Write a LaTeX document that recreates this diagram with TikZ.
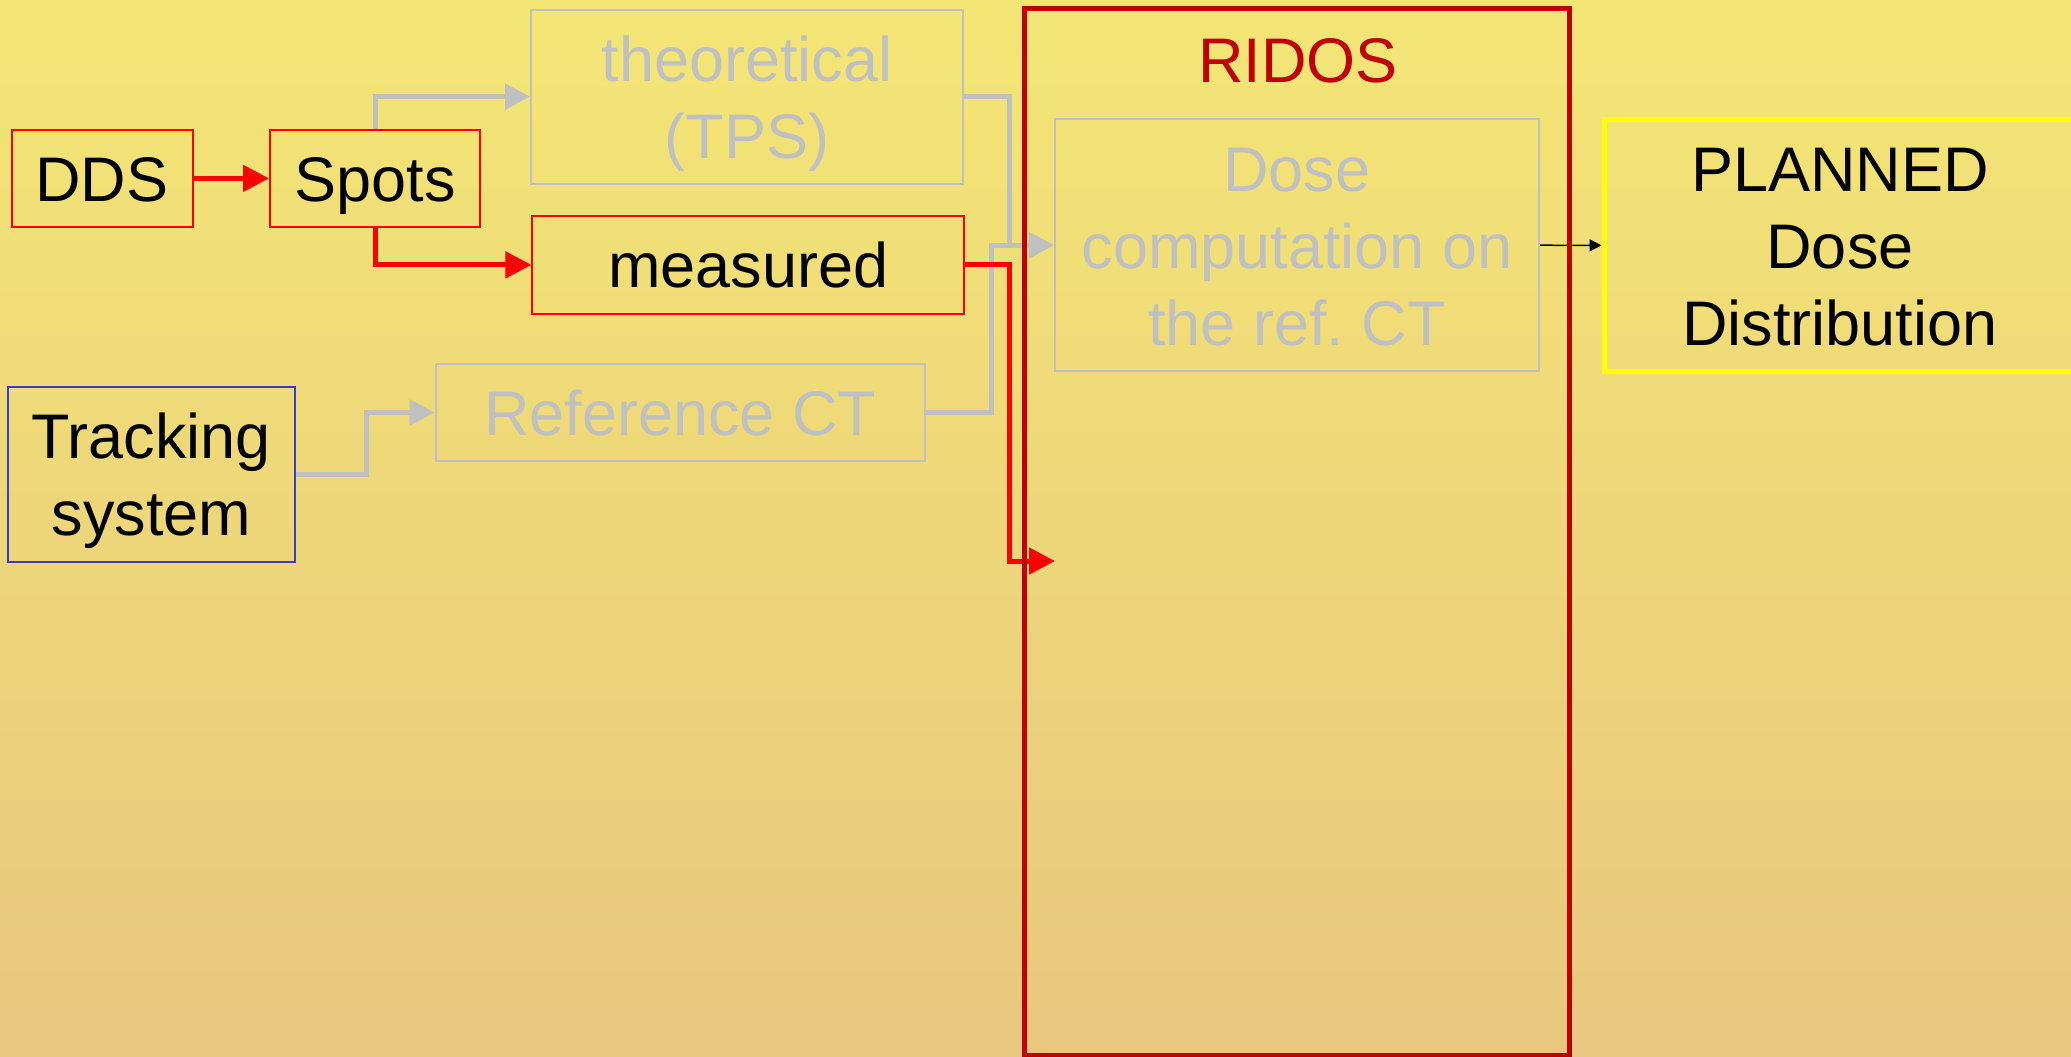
\documentclass[tikz,border=0pt]{standalone}
\usepackage{fontspec}
\setmainfont{Liberation Sans}
\usetikzlibrary{arrows.meta}
\definecolor{bgtop}{RGB}{243,230,117}
\definecolor{bgbot}{RGB}{232,199,127}
\definecolor{greyc}{RGB}{192,192,192}
\definecolor{ridosred}{RGB}{192,0,0}
\definecolor{trackblue}{RGB}{60,60,200}
\definecolor{planyellow}{RGB}{255,255,0}
\newcommand\bigtxt{\fontsize{31.5}{38.5}\selectfont}
\frenchspacing
\tikzset{
  box/.style={draw, line width=1pt, inner sep=0pt, font=\bigtxt, align=center, text height=23pt, text depth=0pt},
  twoline/.style={text height=61.5pt, text depth=0pt},
  threeline/.style={text height=100pt, text depth=0pt},
  greyarrow/.style={draw=greyc, line width=2.5pt, -{Triangle[length=12.5pt,width=12.5pt]}},
  redarrow/.style={draw=red, line width=2.5pt, -{Triangle[length=13pt,width=13pt]}},
  blackarrow/.style={draw=black, line width=0.75pt, -{Triangle[length=6pt,width=6pt]}}
}
\begin{document}
\begin{tikzpicture}[x=0.5pt,y=-0.5pt]
\useasboundingbox (0,0) rectangle (2071,1056);
\shade[top color=bgtop, bottom color=bgbot] (0,0) rectangle (2071,1056);

% boxes
\node[box, draw=red, minimum width=90.5pt, minimum height=48.65pt] (dds) at (102,178.4) {DDS};
\node[box, draw=red, minimum width=105pt, minimum height=48.65pt] (spots) at (375,178.4) {Spots};
\node[box, draw=greyc, text=greyc, twoline, minimum width=216pt, minimum height=87pt] (theo) at (747,96.6) {theoretical\\(TPS)};
\node[box, draw=red, minimum width=215.75pt, minimum height=48.9pt] (measured) at (748.2,264.9) {measured};
\node[box, draw=greyc, text=greyc, minimum width=244.7pt, minimum height=48.35pt] (refct) at (680.3,412.4) {Reference CT};
\node[box, draw=trackblue, twoline, minimum width=143.7pt, minimum height=87.5pt] (track) at (151.3,474) {Tracking\\system};
\node[box, draw=greyc, text=greyc, threeline, minimum width=242pt, minimum height=125.8pt] (dose) at (1297,245.2) {Dose\\computation on\\the ref.\ CT};
\node[box, draw=planyellow, line width=2.5pt, threeline, minimum width=236pt, minimum height=125.8pt] (planned) at (1840,245.4) {PLANNED\\Dose\\Distribution};

% junction coordinates
\coordinate (bendA) at (1009,0);
\coordinate (bendB) at (991,0);
\coordinate (redin) at (1055,561);

% connectors
\draw[redarrow] (dds) -- (spots);
\draw[greyarrow] (spots.north) |- (theo.west);
\draw[redarrow] (spots.south) |- (measured.west);
\draw[greyarrow] (track.east) -- ++(70,0) |- (refct.west);
\draw[greyarrow] (theo.east) -- (theo.east -| bendA) |- (dose.west);
\draw[greyarrow] (refct.east) -- (refct.east -| bendB) |- (dose.west);
\draw[redarrow] (measured.east) -- (measured.east -| bendA) |- (redin);
\draw[blackarrow] (dose.east) -- (planned.west);

% RIDOS frame
\node[draw=ridosred, line width=2.5pt, inner sep=0pt, minimum width=272.5pt, minimum height=523.3pt] (ridos) at (1296.5,531.7) {};
\node[font=\bigtxt, text=ridosred, anchor=base, inner sep=0pt] (ridoslabel) at (1298,82) {RIDOS};
\end{tikzpicture}
\end{document}
